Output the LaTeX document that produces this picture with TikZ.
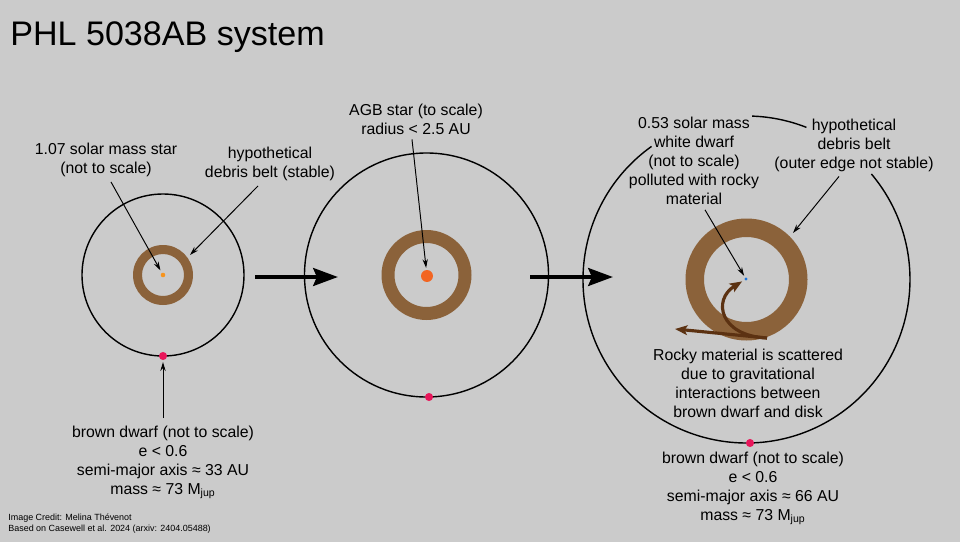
\documentclass[tikz,border=0pt]{standalone}
\usepackage{fontspec}
\setmainfont{Liberation Sans}
\usetikzlibrary{arrows.meta,positioning,calc}
\definecolor{bgc}{RGB}{203,203,203}
\definecolor{beltbrown}{RGB}{139,98,58}
\definecolor{rockbrown}{RGB}{92,50,18}
\definecolor{dwarfpink}{RGB}{232,22,90}
\definecolor{sunorange}{RGB}{247,148,29}
\definecolor{agborange}{RGB}{242,101,34}
\definecolor{wdblue}{RGB}{28,117,220}

\begin{document}
\begin{tikzpicture}[x=0.02cm, y=0.02cm,
  lbl/.style={align=center, font=\fontsize{9}{10.8}\selectfont, inner sep=1pt},
  orbit/.style={line width=0.8pt},
  ptr/.style={-{Stealth[length=5pt,width=3pt]}, line width=0.55pt},
  bigarrow/.style={-{Stealth[length=14pt,width=10pt,inset=2pt]}, line width=2.6pt},
  scatter/.style={-{Stealth[length=7pt,width=5.5pt,inset=1.5pt]}, line width=1.8pt, draw=rockbrown},
  dot/.style={circle, inner sep=0pt, fill=#1}]
  % background
  \fill[bgc] (0,0) rectangle (960,542);
  \useasboundingbox (0,0) rectangle (960,542);
  \node[anchor=base west, inner sep=0pt, font=\fontsize{19.4}{22}\selectfont] (title) at (10,497) {PHL 5038AB system};
  % left system: main sequence
  \coordinate (c1) at (163,267);
  \draw[orbit] (c1) circle[radius=81];
  \fill[beltbrown, even odd rule] (c1) circle[radius=30] (c1) circle[radius=21];
  \node[dot=sunorange, minimum size=2.6pt] (star1) at (c1) {};
  \node[dot=dwarfpink, minimum size=4.6pt] (bd1) at (163,186) {};
  \node[lbl] (lstar1) at (106,382) {1.07 solar mass star\\(not to scale)};
  \node[lbl] (lbelt1) at (270,378) {hypothetical\\debris belt (stable)};
  \coordinate (belt1) at (190,287);
  \draw[ptr, shorten >=1.5pt] ([shift={(5,-3)}]lstar1.south) -- (star1);
  \draw[ptr] ([shift={(-12,-3)}]lbelt1.south) -- (belt1);
  \node[lbl] (lbd1) at (163,80) {brown dwarf (not to scale)\\e < 0.6\\semi-major axis ≈ 33 AU\\mass ≈ 73 M\textsubscript{jup}};
  \draw[ptr, shorten >=1pt] ([yshift=3pt]lbd1.north) -- (bd1);
  % first step
  \coordinate (a1s) at (255,265);
  \coordinate (a1e) at (338,265);
  \draw[bigarrow] (a1s) -- (a1e);
  % middle system: AGB
  \coordinate (c2) at (426.5,267);
  \draw[orbit] (c2) circle[radius=122];
  \fill[beltbrown, even odd rule] (c2) circle[radius=45] (c2) circle[radius=32];
  \node[dot=agborange, minimum size=6.8pt] (star2) at (427,266) {};
  \node[dot=dwarfpink, minimum size=4.6pt] (bd2) at (429,145) {};
  \node[lbl] (lstar2) at (416,423) {AGB star (to scale)\\radius < 2.5 AU};
  \draw[ptr, shorten >=1pt] ([shift={(-4,-3)}]lstar2.south) -- (star2);
  % second step
  \coordinate (a2s) at (530,265);
  \coordinate (a2e) at (613,265);
  \draw[bigarrow] (a2s) -- (a2e);
  % right system: white dwarf (orbit broken by the labels)
  \coordinate (c3) at (746.5,262.5);
  \draw[orbit] ($(c3)+(125.5:163.5)$) arc[start angle=125.5, end angle=400.2, radius=163.5];
  \draw[orbit] ($(c3)+(68.5:163.5)$) arc[start angle=68.5, end angle=88, radius=163.5];
  \fill[beltbrown, even odd rule] (c3) circle[radius=61] (c3) circle[radius=42.5];
  \node[dot=wdblue, minimum size=1.8pt] (wd3) at (746,263) {};
  \node[dot=dwarfpink, minimum size=4.6pt] (bd3) at (750,99) {};
  \node[lbl] (lwd3) at (694,381) {0.53 solar mass\\white dwarf\\(not to scale)\\polluted with rocky\\material};
  \node[lbl] (lbelt3) at (854,397) {hypothetical\\debris belt\\(outer edge not stable)};
  \coordinate (belt3) at (793,309);
  \draw[ptr, shorten >=1pt] ([shift={(11,-3)}]lwd3.south) -- (wd3);
  \draw[ptr] ([shift={(-15,-3)}]lbelt3.south) -- (belt3);
  % scattered rocky material
  \coordinate (rk) at (767,204);
  \coordinate (rkl) at (675,213);
  \draw[scatter, shorten >=1.5pt] (rk) .. controls (720,206) and (712,242) .. (wd3);
  \draw[scatter] (rk) -- (rkl);
  \node[lbl] (lrock) at (748,159) {Rocky material is scattered\\due to gravitational\\interactions between\\brown dwarf and disk};
  \node[lbl] (lbd3) at (753,54) {brown dwarf (not to scale)\\e < 0.6\\semi-major axis ≈ 66 AU\\mass ≈ 73 M\textsubscript{jup}};
  % credit
  \node[anchor=north west, align=left, inner sep=0pt, font=\fontsize{5.1}{5.9}\selectfont] (credit) at (8,28) {Image Credit: Melina Thévenot\\Based on Casewell et al. 2024 (arxiv: 2404.05488)};
\end{tikzpicture}
\end{document}
